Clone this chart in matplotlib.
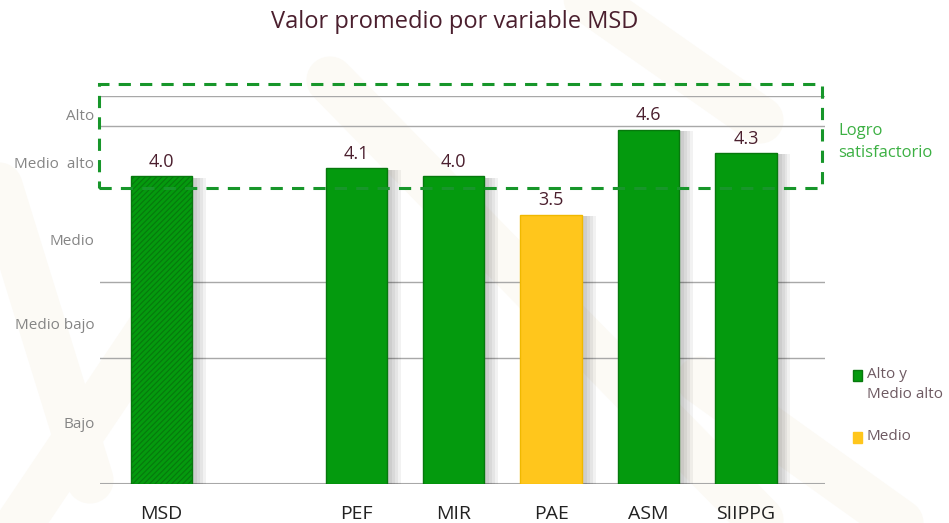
import numpy as np
import matplotlib.pyplot as plt
from matplotlib.patches import Rectangle

# données
categorias = ["MSD", "PEF", "MIR", "PAE", "ASM", "SIIPPG"]
valores = [4.0, 4.1, 4.0, 3.5, 4.6, 4.3]
posiciones = [0, 2, 3, 4, 5, 6]
colores = ["#049a0e", "#049a0e", "#049a0e", "#ffc61c", "#049a0e", "#049a0e"]
bordes = ["#07780d", "#07780d", "#07780d", "#f0b800", "#07780d", "#07780d"]
niveles = ["Bajo", "Medio bajo", "Medio", "Medio  alto", "Alto"]
pos_niveles = [0.8, 2.08, 3.17, 4.18, 4.8]
lineas = [1.64, 2.62, 4.65, 5.04]

plt.rcParams['font.family'] = ['Open Sans', 'DejaVu Sans']
plt.rcParams['hatch.color'] = "#0a7f12"
plt.rcParams['hatch.linewidth'] = 0.8

fig = plt.figure(figsize=(9.49, 5.23), dpi=100)

# fond décoratif clair
fond = fig.add_axes([0, 0, 1, 1], zorder=-1)
fond.set_xlim(0, 949)
fond.set_ylim(523, 0)
fond.axis('off')
for (x0, y0, x1, y1) in [(-40, 60, 90, 480), (330, 80, 760, 520), (560, -20, 760, 120),
                         (150, 330, 20, 523), (700, 380, 900, 523)]:
    fond.plot([x0, x1], [y0, y1], color="#fcfaf5", lw=34, solid_capstyle="round")

ax = fig.add_axes([100/949, (523-484)/523, 725/949, 388/523])
ax.patch.set_alpha(0)
ax.set_xlim(-0.63, 6.81)
ax.set_ylim(0, 388/77)

for y in lineas:
    ax.axhline(y, color="#a8a8a8", lw=1, zorder=1)
ax.axhline(0, color="#a8a8a8", lw=1.5, zorder=1)

# ombres
for x, v in zip(posiciones, valores):
    for k in range(4):
        ax.bar(x + 0.05 + 0.03*k, v - 0.02, width=0.63, bottom=0,
               color="#000000", alpha=0.05, lw=0, zorder=2)

barras = ax.bar(posiciones, valores, width=0.63, color=colores,
                edgecolor=bordes, lw=1, zorder=3)
barras[0].set_hatch("//////")

for x, v in zip(posiciones, valores):
    ax.text(x, v + 0.07, f"{v:.1f}", ha="center", va="bottom",
            fontsize=13, color="#4b1f2e", zorder=4)

ax.set_xticks(posiciones)
ax.set_xticklabels(categorias, fontsize=14, color="#222222")
ax.tick_params(axis="x", length=0, pad=15)
ax.set_yticks(pos_niveles)
ax.set_yticklabels(niveles, fontsize=11, color="#858585")
ax.tick_params(axis="y", length=0, pad=4)
for s in ax.spines.values():
    s.set_visible(False)

# cadre logro satisfactorio
caja = Rectangle((99/949, 1 - 188/523), 723/949, 104/523, transform=fig.transFigure,
                 fill=False, ls=(0, (4, 3)), lw=2.2, edgecolor="#17962a", zorder=5)
fig.patches.append(caja)
fig.text(838/949, 1 - 131/523, "Logro", fontsize=12, color="#3cb043", va="center")
fig.text(838/949, 1 - 153/523, "satisfactorio", fontsize=12, color="#3cb043", va="center")

# légende
fig.patches.append(Rectangle((853/949, 1 - 381/523), 9/949, 11/523,
                             transform=fig.transFigure, color="#049a0e", ec="#07780d"))
fig.text(867/949, 1 - 375/523, "Alto y", fontsize=11, color="#6e5a62", va="center")
fig.text(867/949, 1 - 395/523, "Medio alto", fontsize=11, color="#6e5a62", va="center")
fig.patches.append(Rectangle((853/949, 1 - 443/523), 9/949, 11/523,
                             transform=fig.transFigure, color="#ffc61c"))
fig.text(867/949, 1 - 437/523, "Medio", fontsize=11, color="#6e5a62", va="center")

fig.text(455/949, 1 - 22/523, "Valor promedio por variable MSD", fontsize=17,
         color="#4b1f2e", ha="center", va="center")

fig.savefig("out.png", dpi=100)
